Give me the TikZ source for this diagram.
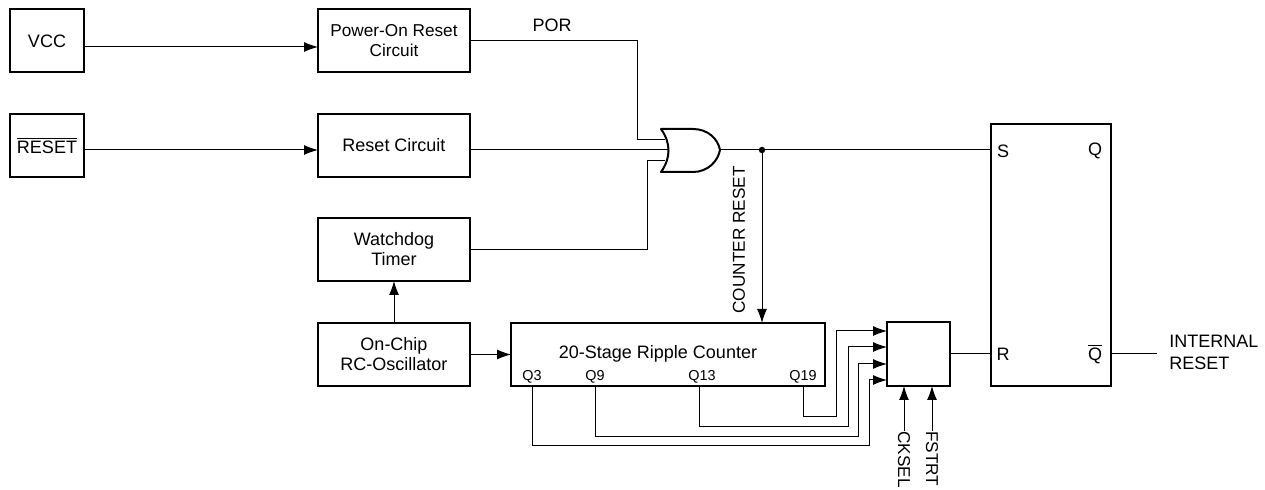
\documentclass[tikz,border=0pt]{standalone}
\usepackage{fontspec}
\setmainfont{Liberation Sans}
\usetikzlibrary{arrows.meta,calc}

\begin{document}
\begin{tikzpicture}[x=0.5pt,y=-0.5pt,
  font=\fontsize{9}{10}\selectfont,
  box/.style={draw,line width=1pt,minimum width=76pt,minimum height=31.5pt,align=center,inner sep=1pt,outer sep=0pt},
  wire/.style={line width=0.5pt},
  arr/.style={wire,-{Latex[length=7pt,width=5pt]}},
  small/.style={font=\fontsize{7.2}{8}\selectfont,inner sep=0pt},
  side/.style={font=\fontsize{8.6}{9}\selectfont,inner sep=0pt}]
\useasboundingbox (0,0) rectangle (1265,490);

% blocks
\node[box,minimum width=37pt] (vcc) at (47,41) {VCC};
\node[box,minimum width=37pt] (rst) at (47,145.5) {$\overline{\hbox{RESET}}$};
\node[box,font=\fontsize{8.6}{10}\selectfont] (por) at (394,40.5) {Power-On Reset\\Circuit};
\node[box] (rc) at (394,145.5) {Reset Circuit};
\node[box] (wdt) at (394,249.5) {Watchdog\\Timer};
\node[box] (osc) at (394,354.5) {On-Chip\\RC-Oscillator};
\node[box,minimum width=157pt] (cnt) at (668,354.5) {};
\node[anchor=base,inner sep=0pt] (cntlbl) at (658,359) {20-Stage Ripple Counter};
\node[small,anchor=base] (q3) at (532,381) {Q3};
\node[small,anchor=base] (q9) at (595,381) {Q9};
\node[small,anchor=base] (q13) at (702,381) {Q13};
\node[small,anchor=base] (q19) at (803,381) {Q19};
\node[box,minimum width=31.5pt,minimum height=32pt] (sel) at (918.5,354) {};
\node[box,minimum width=60pt,minimum height=131pt] (ff) at (1051,255) {};
\node (s) at (1003,151) {S};
\node (q) at (1095,151) {Q};
\node (r) at (1003,354) {R};
\node (qb) at (1095,354) {$\overline{\hbox{Q}}$};

% OR gate
\coordinate (g1) at (665,140);
\coordinate (g2) at (668,150);
\coordinate (g3) at (665,161);
\coordinate (gout) at (720,150);
\draw[line width=1pt,line join=round] (661,129) -- (693,129) .. controls (708,129) and (718,139) .. (gout)
  .. controls (718,161) and (708,172) .. (693,172) -- (661,172)
  .. controls (671,158) and (671,143) .. (661,129) -- cycle;

% wires
\draw[arr] ([yshift=-3pt]vcc.east) -- ([yshift=-3pt]vcc.east -| por.west);
\draw[arr] ([yshift=-2.25pt]rst.east) -- ([yshift=-2.25pt]rc.west);
\coordinate (k1) at (637,140);
\draw[wire] (por.east) -| (k1) -- (g1);
\node (porlbl) at (552,25) {POR};
\draw[wire] ([yshift=-2.25pt]rc.east) -- (g2);
\coordinate (k3) at (647,161);
\draw[wire] (wdt.east) -| (k3) -- (g3);
\draw[arr] (osc.north) -- (wdt.south);
\draw[arr] (osc.east) -- (cnt.west);

\coordinate (jn) at (762,150);
\draw[wire] (gout) -- (gout -| ff.west);
\fill (jn) circle (1.6pt);% junction
\draw[arr] (jn) -- (jn |- cnt.north);
\node[side,rotate=90] (crlbl) at (739,240) {COUNTER RESET};

\coordinate (b19) at (836,417);
\coordinate (b13) at (848,427);
\coordinate (b9) at (858,437);
\coordinate (b3) at (869,446);
\draw[arr] (q19 |- cnt.south) |- (b19) |- ([yshift=11.5pt]sel.west);
\draw[arr] ([xshift=-1.5pt]q13 |- cnt.south) |- (b13) |- ([yshift=3.5pt]sel.west);
\draw[arr] (q9 |- cnt.south) |- (b9) |- ([yshift=-5pt]sel.west);
\draw[arr] (q3 |- cnt.south) |- (b3) |- ([yshift=-13pt]sel.west);

\node[side,rotate=-90,anchor=west] (cksel) at (904,431) {CKSEL};
\node[side,rotate=-90,anchor=west] (fstrt) at (932,431) {FSTRT};
\draw[arr] (cksel.west) -- (cksel.west |- sel.south);
\draw[arr] (fstrt.west) -- (fstrt.west |- sel.south);

\draw[wire] (sel.east) -- (sel.east -| ff.west);
\coordinate (out) at (1157,354);
\draw[wire] (ff.east |- out) -- (out);
\node[anchor=west,align=left,inner sep=0pt,font=\fontsize{9}{11}\selectfont] (intrst) at (1169,352) {INTERNAL\\RESET};

\end{tikzpicture}
\end{document}
